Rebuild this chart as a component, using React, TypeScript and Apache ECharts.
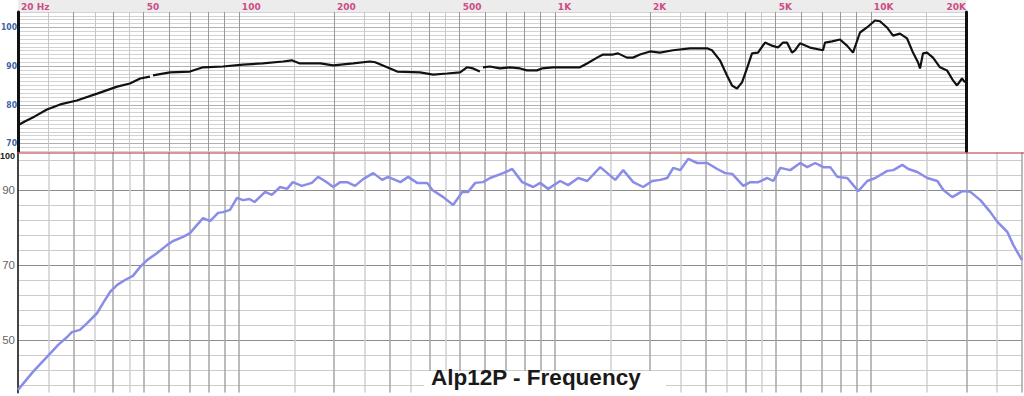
import React, { useEffect, useRef } from 'react';
import * as echarts from 'echarts';

// ---- data ----
// upper chart: black response curve (null = break in the trace)
const TOP_FREQ = [20, 21.0, 22.6, 24.7, 27.2, 30.7, 35.6, 41.2, 45.2, 48.7, 52.3, 52.9, 53.5, 60.5, 70.0, 77.0, 89.1, 103, 119, 138, 147, 156, 181, 199, 230, 260, 270, 301, 317, 374, 412, 456, 501, 527, 551, 579, 585, 592, 623, 670, 721, 776, 816, 878, 910, 986, 1092, 1201, 1264, 1360, 1420, 1527, 1584, 1691, 1767, 1860, 2000, 2150, 2365, 2677, 3030, 3142, 3330, 3505, 3636, 3770, 3910, 4055, 4205, 4394, 4624, 4866, 5084, 5272, 5427, 5628, 5752, 5965, 6418, 7056, 7160, 7534, 7985, 8403, 8779, 9239, 9722, 10304, 10686, 11246, 11750, 12364, 13010, 13592, 14096, 14304, 14620, 15052, 15726, 16548, 17420, 18196, 18732, 19424, 19854];
const TOP_DB = [74.7, 75.7, 77.0, 78.8, 80.1, 81.1, 82.9, 84.7, 85.5, 86.8, 87.3, null, 87.6, 88.4, 88.6, 89.7, 89.9, 90.4, 90.7, 91.2, 91.5, 90.7, 90.7, 90.2, 90.7, 91.2, 91.0, 89.4, 88.6, 88.4, 87.8, 88.1, 88.4, 89.7, 89.4, 88.6, null, 89.7, 89.9, 89.4, 89.7, 89.4, 88.9, 88.9, 89.4, 89.7, 89.7, 89.7, 90.7, 92.2, 93.0, 93.0, 93.3, 92.2, 92.2, 93.0, 93.8, 93.5, 94.1, 94.6, 94.6, 94.1, 91.5, 87.6, 85.0, 84.2, 85.8, 89.4, 93.3, 93.5, 96.1, 95.3, 94.8, 96.1, 96.1, 93.5, 94.1, 95.9, 94.8, 94.1, 96.1, 96.4, 96.9, 95.3, 93.5, 98.7, 100.0, 101.8, 101.6, 100.0, 97.9, 98.4, 97.2, 93.5, 91.0, 89.4, 93.3, 93.5, 92.2, 89.7, 88.9, 86.3, 85.0, 86.8, 85.8];

// lower chart: blue "Alp12P" response curve
const BOT_FREQ = [20, 22.3, 24.7, 26.8, 28.6, 29.6, 31.4, 33.1, 35.6, 37.2, 39.1, 41.2, 43.6, 46.2, 48.7, 51.2, 55.1, 59.2, 61.9, 66.6, 70.0, 73.7, 77.0, 81.0, 85.9, 89.1, 93.7, 98.6, 103, 108, 112, 121, 127, 135, 142, 148, 158, 170, 178, 187, 199, 209, 220, 233, 247, 266, 284, 296, 324, 343, 366, 394, 409, 443, 476, 509, 531, 559, 592, 623, 685, 732, 787, 853, 897, 951, 1038, 1100, 1184, 1264, 1390, 1550, 1643, 1767, 1900, 2029, 2151, 2264, 2365, 2489, 2638, 2816, 3030, 3259, 3454, 3635, 3940, 4146, 4395, 4692, 4902, 5158, 5546, 5965, 6278, 6654, 7056, 7424, 7814, 8403, 9104, 9722, 10304, 11246, 11750, 12550, 13108, 13992, 15052, 16192, 16916, 18062, 19424, 20594, 22152, 23826, 25074, 26966, 28172, 30000];
const BOT_DB = [36.7, 41.5, 45.5, 48.7, 50.8, 52.1, 52.7, 54.5, 57.2, 59.9, 62.8, 64.7, 66.0, 67.1, 69.5, 71.3, 73.2, 75.3, 76.4, 77.5, 78.5, 80.7, 82.5, 81.7, 83.9, 84.1, 84.7, 87.9, 87.3, 87.6, 86.8, 89.5, 88.7, 90.8, 90.3, 92.1, 91.1, 91.9, 93.5, 92.4, 90.8, 92.1, 92.1, 91.1, 92.9, 94.5, 92.7, 93.5, 92.1, 93.5, 91.9, 91.9, 90.0, 88.1, 86.0, 89.5, 89.5, 91.9, 92.1, 93.2, 94.5, 95.6, 92.1, 90.8, 91.9, 90.3, 92.4, 91.3, 93.2, 92.4, 96.1, 92.7, 95.3, 92.1, 90.8, 92.4, 92.7, 93.2, 95.9, 95.3, 98.3, 97.2, 97.2, 95.6, 94.5, 94.3, 91.1, 92.1, 92.1, 93.2, 92.4, 95.9, 95.3, 97.2, 96.1, 97.2, 96.1, 96.1, 93.5, 93.2, 89.7, 92.4, 93.2, 95.1, 95.3, 96.7, 95.6, 94.8, 93.2, 92.4, 90.0, 88.1, 89.7, 89.5, 87.3, 84.1, 81.5, 78.8, 75.3, 71.3];

// axes
const LABEL_FREQS = [20, 50, 100, 200, 500, 1000, 2000, 5000, 10000, 20000];
const LABEL_TEXTS = ['20 Hz', '50', '100', '200', '500', '1K', '2K', '5K', '10K', '20K'];
const TOP_Y_LABELS = [70, 80, 90, 100];
const BOT_Y_LABELS = [50, 70, 90, 100];
const GRID_MANTISSAS = [1, 1.5, 2, 2.5, 3, 3.5, 4, 4.5, 5, 6, 7, 8, 9];
const GRID_DECADES = [10, 100, 1000, 10000];
const TITLE = 'Alp12P - Frequency';

const lx = (f: number) => Math.log10(f);

function gridLines(maxF: number) {
  const out: { v: number; half: boolean }[] = [];
  for (const d of GRID_DECADES) {
    for (const m of GRID_MANTISSAS) {
      const v = m * d;
      if (v >= 20 && v <= maxF) out.push({ v, half: m % 1 !== 0 });
    }
  }
  return out;
}

function buildOption() {
  const topGrid = gridLines(20000);
  const botGrid = gridLines(30000);
  const topData = TOP_FREQ.map((f, i) => [lx(f), TOP_DB[i] == null ? '-' : TOP_DB[i]]);
  const botData = BOT_FREQ.map((f, i) => [lx(f), BOT_DB[i]]);
  const T = 'rgba(0,0,0,0)';
  const topH = ['#d2d2d2', '#d2d2d2', '#b0b0b0', '#d2d2d2', '#d2d2d2', '#d2d2d2', '#d2d2d2', '#d2d2d2', '#d2d2d2', '#d2d2d2'];
  const botH = [T, '#cccccc', T, '#cccccc', T, '#cccccc', T, '#8c8c8c', T, '#cccccc'];

  return {
    animation: false,
    backgroundColor: '#ffffff',
    title: {
      text: TITLE,
      left: 431,
      top: 366,
      padding: 0,
      z: 60,
      textStyle: { fontFamily: 'Liberation Sans, Arial, sans-serif', fontSize: 22.5, fontWeight: 'bold', color: '#1a1a1a' },
    },
    graphic: [
      { type: 'rect', z: -1, silent: true, shape: { x: 18, y: 0, width: 948, height: 12 }, style: { fill: '#ececec' } },
      { type: 'line', z: 5, silent: true, shape: { x1: 17, y1: 153, x2: 1024, y2: 153 }, style: { stroke: '#c02a2a', lineWidth: 1.2 } },
      { type: 'rect', z: 50, silent: true, shape: { x: 424, y: 371, width: 242, height: 25 }, style: { fill: '#ffffff' } },
    ],
    grid: [
      { left: 18, top: 12, width: 948, height: 139.2, containLabel: false, outerBoundsMode: 'none' },
      { left: 18, top: 152.5, width: 1004, height: 240, containLabel: false, outerBoundsMode: 'none' },
    ],
    xAxis: [
      {
        type: 'value', gridIndex: 0, position: 'top', min: lx(20), max: lx(20000),
        axisLine: { show: false },
        axisTick: { show: false, customValues: topGrid.map((g) => lx(g.v)) },
        axisLabel: {
          customValues: LABEL_FREQS.map(lx),
          formatter: (val: number) => {
            const i = LABEL_FREQS.findIndex((f) => Math.abs(lx(f) - val) < 1e-6);
            return i >= 0 ? LABEL_TEXTS[i] : '';
          },
          margin: 1, align: 'left', alignMaxLabel: 'right', padding: [0, 0, 0, 3],
          color: '#cc4c86', fontSize: 9, fontWeight: 'bold', fontFamily: 'DejaVu Sans',
        },
        splitLine: { show: true, lineStyle: { color: topGrid.map((g) => (g.half ? '#c6c6c6' : '#989898')), width: 1 } },
      },
      {
        type: 'value', gridIndex: 1, position: 'bottom', min: lx(20), max: lx(30000),
        axisLine: { show: false },
        axisTick: { show: false, customValues: botGrid.map((g) => lx(g.v)) },
        axisLabel: { show: false },
        splitLine: { show: true, lineStyle: { color: botGrid.map((g) => (g.half ? '#cfcfcf' : '#a6a6a6')), width: 1.5 } },
      },
    ],
    yAxis: [
      {
        type: 'value', gridIndex: 0, min: 68, max: 104, interval: 1,
        axisLine: { show: true, lineStyle: { color: '#111111', width: 3 } },
        axisTick: { show: false },
        axisLabel: { customValues: TOP_Y_LABELS, margin: 1, color: '#3a64a8', fontSize: 8.5, fontWeight: 'bold', fontFamily: 'DejaVu Sans Condensed, DejaVu Sans' },
        splitLine: { show: true, lineStyle: { color: topH, width: 1 } },
      },
      {
        type: 'value', gridIndex: 0, position: 'right', min: 68, max: 104, interval: 1,
        axisLine: { show: true, lineStyle: { color: '#111111', width: 3 } },
        axisTick: { show: false }, axisLabel: { show: false }, splitLine: { show: false },
      },
      {
        type: 'value', gridIndex: 1, min: 36, max: 100, interval: 2,
        axisLine: { show: true, lineStyle: { color: '#444444', width: 2 } },
        axisTick: { show: false },
        axisLabel: {
          customValues: BOT_Y_LABELS, margin: 3, color: '#666666', fontSize: 11.5, fontFamily: 'Liberation Sans, Arial, sans-serif',
          formatter: (v: number) => (v === 100 ? '{s|100}' : String(v)),
          rich: { s: { fontSize: 9, color: '#222222', fontWeight: 'bold', fontFamily: 'Liberation Sans, Arial, sans-serif', padding: [6, 0, 0, 0] } },
        },
        splitLine: { show: true, lineStyle: { color: botH, width: 1.2 } },
      },
    ],
    series: [
      {
        type: 'line', xAxisIndex: 0, yAxisIndex: 0, data: topData, symbol: 'none', connectNulls: false, silent: true, z: 3,
        lineStyle: { color: '#111111', width: 2.2 },
      },
      {
        type: 'line', xAxisIndex: 1, yAxisIndex: 2, data: botData, symbol: 'none', silent: true, z: 3,
        lineStyle: { color: '#8a8de8', width: 2.5 },
      },
    ],
  };
}

export default function App() {
  const ref = useRef<HTMLDivElement>(null);
  useEffect(() => {
    document.body.style.margin = '0';
    const chart = echarts.init(ref.current as HTMLDivElement, null, { renderer: 'svg' });
    chart.setOption(buildOption() as any);
    return () => chart.dispose();
  }, []);
  return <div ref={ref} style={{ width: 1024, height: 396, position: 'absolute', left: 0, top: 0 }} />;
}
